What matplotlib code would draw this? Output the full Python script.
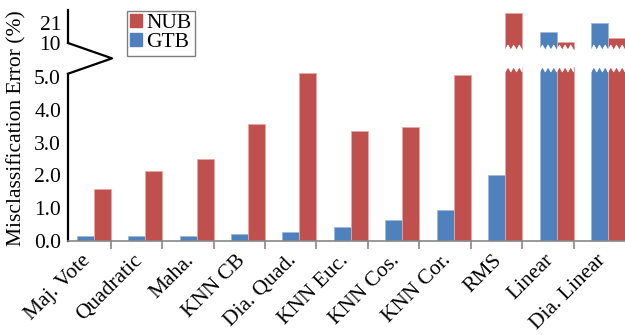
import matplotlib
matplotlib.use("Agg")
import matplotlib.pyplot as plt
from matplotlib.patches import Polygon, Patch
from matplotlib.lines import Line2D
from matplotlib.transforms import ScaledTranslation
import numpy as np

# misclassification error per method (%)
methods = ['Maj. Vote', 'Quadratic', 'Maha.', 'KNN CB', 'Dia. Quad.', 'KNN Euc.',
           'KNN Cos.', 'KNN Cor.', 'RMS', 'Linear', 'Dia. Linear']
gtb = [0.14, 0.14, 0.14, 0.21, 0.26, 0.42, 0.65, 0.96, 2.02, 15.9, 20.8]
nub = [1.60, 2.13, 2.49, 3.58, 5.11, 3.35, 3.48, 5.05, 26.3, 10.4, 12.6]

low_ticks = [0.0, 1.0, 2.0, 3.0, 4.0, 5.0]
high_ticks = [10, 21]

red = '#C0504D'
blue = '#4F81BD'
fs = 15.5
plt.rcParams['font.family'] = ['Liberation Serif', 'DejaVu Serif']
plt.rcParams['font.size'] = fs

fig = plt.figure(figsize=(6.25, 3.35), dpi=100)
W, H = 625, 335
# lower part 0..5.3, upper part 6.15..28.1
ax_lo = fig.add_axes([68 / W, 94 / H, 557 / W, 174 / H])
ax_hi = fig.add_axes([68 / W, 285 / H, 557 / W, 40 / H])
ax_lo.set_ylim(0, 5.305)
ax_hi.set_ylim(6.15, 28.13)

x = np.arange(len(methods))
w = 0.33
for ax in (ax_lo, ax_hi):
    ax.bar(x - w / 2, gtb, w, color=blue, edgecolor='#9DB8DC', linewidth=0.6, label='GTB')
    ax.bar(x + w / 2, nub, w, color=red, edgecolor='#E3A9A7', linewidth=0.6, label='NUB')
    ax.set_xlim(-0.5, 10.33)
    ax.spines['top'].set_visible(False)
    ax.spines['right'].set_visible(False)
    ax.spines['left'].set_linewidth(1.6)
    ax.spines['left'].set_color('black')
    ax.tick_params(axis='y', length=0, pad=5, labelsize=fs)

ax_lo.set_yticks(low_ticks)
ax_lo.set_yticklabels(['%.1f' % t for t in low_ticks])
ax_lo.spines['left'].set_bounds(0, 5.1)
ax_lo.spines['bottom'].set_color('#878787')
ax_lo.spines['bottom'].set_linewidth(1.2)
ax_lo.set_xticks(x)
ax_lo.set_xticklabels(methods, rotation=45, ha='right', va='center',
                      rotation_mode='anchor', fontsize=fs)
ax_lo.tick_params(axis='x', which='major', length=0, pad=12)
shift = ScaledTranslation(-4 / 72, 0, fig.dpi_scale_trans)
for lab in ax_lo.get_xticklabels():
    lab.set_transform(lab.get_transform() + shift)
ax_lo.set_xticks(x[:-1] + w, minor=True)
ax_lo.tick_params(axis='x', which='minor', length=6, width=1.2, color='#878787',
                  direction='out')

ax_hi.set_yticks(high_ticks)
ax_hi.set_yticklabels([str(t) for t in high_ticks])
ax_hi.spines['left'].set_bounds(10, 28.13)
ax_hi.spines['bottom'].set_visible(False)
ax_hi.set_xticks([])

# zigzag cuts on the broken bars
def cut(ax, x0, top):
    tr = ax.get_xaxis_transform()
    xs = x0 + np.linspace(0, w, 7)
    if top:
        h = 5 / 174
        pts = [(x0, 1.0)]
        for k, xx in enumerate(xs):
            pts.append((xx, 1.0 - h if k % 2 == 0 else 1.0))
        pts.append((x0 + w, 1.0))
    else:
        h = 5 / 40
        pts = [(x0, 0.0)]
        for k, xx in enumerate(xs):
            pts.append((xx, 0.0 if k % 2 == 0 else h))
        pts.append((x0 + w, 0.0))
    ax.add_patch(Polygon(pts, closed=True, facecolor='white', edgecolor='white',
                         linewidth=0.5, transform=tr, zorder=5, clip_on=False))
    if top:
        ax.add_patch(Polygon([(x0 - 0.01, 1.0), (x0 + w + 0.01, 1.0),
                              (x0 + w + 0.01, 1.05), (x0 - 0.01, 1.05)],
                             facecolor='white', edgecolor='none', transform=tr,
                             zorder=5, clip_on=False))

top_lo = ax_lo.get_ylim()[1]
for i in range(len(methods)):
    for val, x0 in ((gtb[i], x[i] - w), (nub[i], x[i])):
        if val > top_lo:
            cut(ax_lo, x0, True)
            cut(ax_hi, x0, False)

# break mark on the value axis
fig.canvas.draw()
inv = fig.transFigure.inverted()
p1 = ax_hi.transData.transform((-0.5, 10))
p3 = ax_lo.transData.transform((-0.5, 5.1))
p2 = (p1[0] + 44, (p1[1] + p3[1]) / 2)
pts = inv.transform([p1, p2, p3])
fig.add_artist(Line2D(pts[:, 0], pts[:, 1], color='black', linewidth=1.6,
                      transform=fig.transFigure))

fig.text(17 / W, 1 - 128 / H, 'Misclassification Error (%)', rotation=90,
         ha='center', va='center', fontsize=fs)

handles = [Patch(color=red, label='NUB'), Patch(color=blue, label='GTB')]
fig.legend(handles=handles, loc='upper left', bbox_to_anchor=(127 / W, 1 - 11 / H),
           frameon=True, fancybox=False, edgecolor='#7F7F7F', framealpha=1,
           handlelength=0.55, handleheight=0.55, handletextpad=0.2,
           labelspacing=0.0, borderpad=0.15, borderaxespad=0, fontsize=fs)

fig.savefig('out.png', dpi=100)
